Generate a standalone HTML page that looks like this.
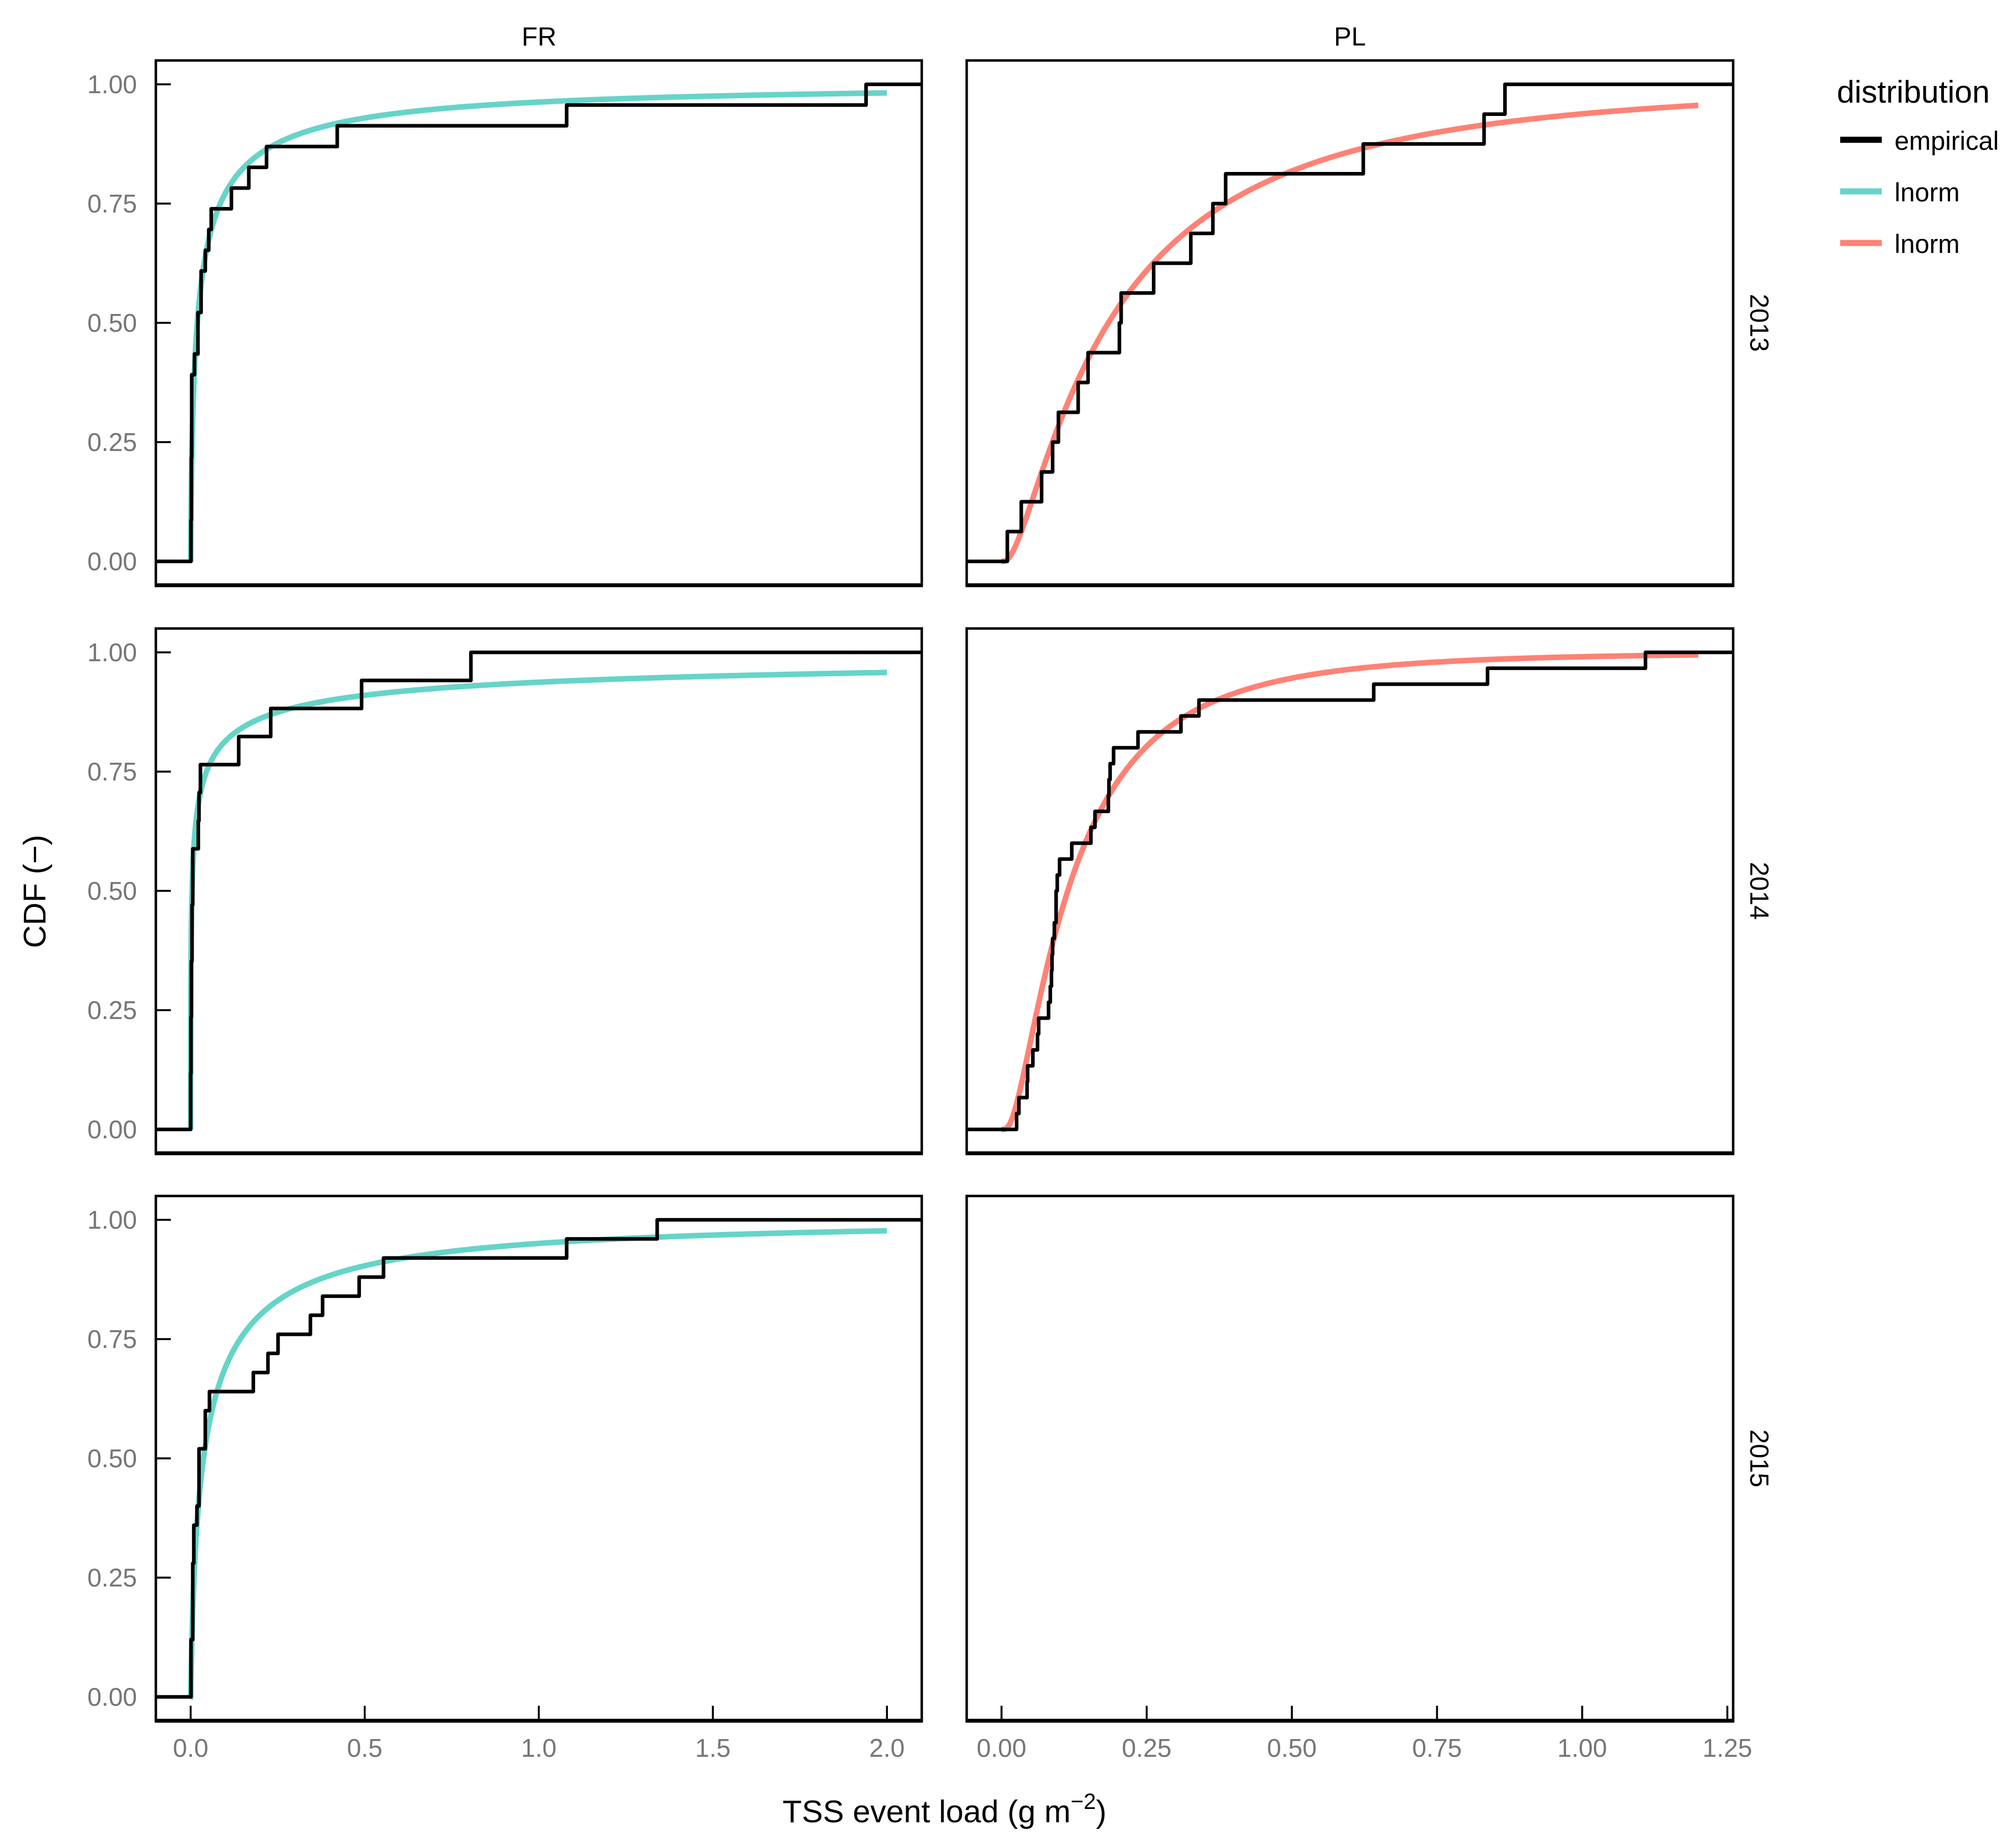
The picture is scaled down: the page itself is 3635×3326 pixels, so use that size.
<!DOCTYPE html>
<html>
<head>
<meta charset="utf-8">
<style>
html,body{margin:0;padding:0;background:#fff;}
svg{display:block;}
text{font-family:"Liberation Sans",Arial,sans-serif;}
</style>
</head>
<body>
<svg id="chart" xmlns="http://www.w3.org/2000/svg" width="3635" height="3326" viewBox="0 0 3635 3326">
<rect x="0" y="0" width="3635" height="3326" fill="#fff"/>
<g id="panels"></g>
<text x="972" y="82" font-size="47" text-anchor="middle" fill="#000">FR</text>
<text x="2434" y="82" font-size="47" text-anchor="middle" fill="#000">PL</text>
<text transform="translate(3156,582) rotate(90)" font-size="47" text-anchor="middle" fill="#000">2013</text>
<text transform="translate(3156,1606) rotate(90)" font-size="47" text-anchor="middle" fill="#000">2014</text>
<text transform="translate(3156,2629) rotate(90)" font-size="47" text-anchor="middle" fill="#000">2015</text>
<text transform="translate(82,1607) rotate(-90)" font-size="57" text-anchor="middle" fill="#000">CDF (−)</text>
<text x="1703" y="3285" font-size="57" text-anchor="middle" fill="#000">TSS event load (g m<tspan dy="-24" font-size="40">−2</tspan><tspan dy="24">)</tspan></text>
<g>
<text x="3312" y="185" font-size="57" fill="#000">distribution</text>
<line x1="3318" y1="252" x2="3393" y2="252" stroke="#000" stroke-width="11"/>
<text x="3416" y="270" font-size="47" fill="#000">empirical</text>
<line x1="3318" y1="345" x2="3393" y2="345" stroke="#66D4C8" stroke-width="11"/>
<text x="3416" y="363" font-size="47" fill="#000">lnorm</text>
<line x1="3318" y1="438" x2="3393" y2="438" stroke="#FF8275" stroke-width="11"/>
<text x="3416" y="456" font-size="47" fill="#000">lnorm</text>
</g>
</svg>
<script>
// ---- data ----
const sites = ["FR", "PL"];
const years = ["2013", "2014", "2015"];
const yTicks = [0, 0.25, 0.5, 0.75, 1];
const yTickLabels = ["0.00", "0.25", "0.50", "0.75", "1.00"];
const xTicksFR = [0, 0.5, 1, 1.5, 2];
const xTickLabelsFR = ["0.0", "0.5", "1.0", "1.5", "2.0"];
const xTicksPL = [0, 0.25, 0.5, 0.75, 1, 1.25];
const xTickLabelsPL = ["0.00", "0.25", "0.50", "0.75", "1.00", "1.25"];
const empFR2013 = [0.001,0.001,0.002,0.002,0.002,0.003,0.003,0.003,0.003,0.011,0.021,0.021,0.030,0.030,0.042,0.052,0.059,0.117,0.167,0.218,0.421,1.08,1.94];
const empFR2014 = [0.000,0.000,0.001,0.001,0.002,0.002,0.004,0.004,0.006,0.006,0.022,0.024,0.028,0.138,0.230,0.491,0.805];
const empFR2015 = [0.001,0.001,0.001,0.006,0.006,0.006,0.006,0.009,0.009,0.018,0.024,0.024,0.024,0.042,0.042,0.054,0.180,0.222,0.251,0.344,0.379,0.484,0.554,1.08,1.34];
const empPL2013 = [0.010,0.034,0.069,0.088,0.098,0.132,0.149,0.203,0.206,0.262,0.326,0.364,0.386,0.623,0.831,0.867];
const empPL2014 = [0.026,0.030,0.044,0.045,0.054,0.062,0.064,0.081,0.084,0.086,0.087,0.088,0.091,0.094,0.094,0.096,0.100,0.121,0.154,0.161,0.184,0.185,0.187,0.193,0.235,0.309,0.340,0.641,0.837,1.109];
// fitted lognormal parameters per panel: FR2013, FR2014, FR2015, PL2013, PL2014
const fitMeanlog = [-3.96, -5.52, -3.30, -1.693, -2.171];
const fitSdlog = [2.22, 3.6, 2.0, 1.1, 0.92];
const fitXmax = [2.0, 2.0, 2.0, 1.2, 1.2];

// ---- layout ----
const colX = [[281,1662],[1743,3125]];
const rowY = [[109,1055],[1133,2079],[2156,3102]];
const xDom = [[-0.1,2.1],[-0.06,1.26]];
const yDom = [-0.05,1.05];
const NS = "http://www.w3.org/2000/svg";
const panelsG = document.getElementById('panels');

function erf(x){const s=x<0?-1:1;x=Math.abs(x);const t=1/(1+0.3275911*x);
 const y=1-(((((1.061405429*t-1.453152027)*t)+1.421413741)*t-0.284496736)*t+0.254829592)*t*Math.exp(-x*x);return s*y;}
function plnorm(x,m,s){if(x<=0)return 0;return 0.5*(1+erf((Math.log(x)-m)/(s*Math.SQRT2)));}
function mk(tag,attrs){const e=document.createElementNS(NS,tag);for(const k in attrs)e.setAttribute(k,attrs[k]);return e;}

const panelDefs = [
 {c:0,r:0,emp:empFR2013,fit:0,col:"#66D4C8"},
 {c:0,r:1,emp:empFR2014,fit:1,col:"#66D4C8"},
 {c:0,r:2,emp:empFR2015,fit:2,col:"#66D4C8"},
 {c:1,r:0,emp:empPL2013,fit:3,col:"#FF8275"},
 {c:1,r:1,emp:empPL2014,fit:4,col:"#FF8275"},
 {c:1,r:2,emp:null,fit:-1,col:"#FF8275"}
];

panelDefs.forEach((p,i)=>{
 const [x0,x1]=colX[p.c],[y0,y1]=rowY[p.r];
 const xs=v=>x0+(v-xDom[p.c][0])/(xDom[p.c][1]-xDom[p.c][0])*(x1-x0);
 const ys=v=>y1-(v-yDom[0])/(yDom[1]-yDom[0])*(y1-y0);
 const g=mk('g',{});
 
 
 panelsG.appendChild(g);
 const cid='clip'+i;
 const cp=mk('clipPath',{id:cid});cp.appendChild(mk('rect',{x:x0,y:y0,width:x1-x0,height:y1-y0}));g.appendChild(cp);
 if(p.fit>=0){
  const m=fitMeanlog[p.fit],s=fitSdlog[p.fit],xm=fitXmax[p.fit];
  let d='';const N=600;
  for(let k=0;k<=N;k++){const xv=xm*Math.pow(k/N,3);d+=(k?'L':'M')+xs(xv).toFixed(2)+','+ys(plnorm(xv,m,s)).toFixed(2);}
  const path=mk('path',{d:d,fill:'none',stroke:p.col,'stroke-width':10,'clip-path':'url(#'+cid+')'});
  
  
  g.appendChild(path);
 }
 if(p.emp){
  const v=p.emp.slice().sort((a,b)=>a-b);const n=v.length;
  let d='M'+x0+','+ys(0);let cur=0;
  for(let k=0;k<n;k++){d+='L'+xs(v[k]).toFixed(2)+','+ys(cur).toFixed(2);cur=(k+1)/n;d+='L'+xs(v[k]).toFixed(2)+','+ys(cur).toFixed(2);}
  d+='L'+x1+','+ys(1).toFixed(2);
  const path=mk('path',{d:d,fill:'none',stroke:'#000','stroke-width':6.5,'stroke-linejoin':'round','clip-path':'url(#'+cid+')'});
  
  
  g.appendChild(path);
 }
 const fr=mk('rect',{x:x0,y:y0,width:x1-x0,height:y1-y0,fill:'none',stroke:'#000','stroke-width':4.5});
 
 
 g.appendChild(fr);
 const bl=mk('line',{x1:x0-2,y1:y1,x2:x1+2,y2:y1,stroke:'#000','stroke-width':7});
 
 
 g.appendChild(bl);
 if(p.c===0){
  yTicks.forEach((t,k)=>{
   const tl=mk('line',{x1:x0,y1:ys(t),x2:x0+27,y2:ys(t),stroke:'#000','stroke-width':3.5});
   
   
   g.appendChild(tl);
   const tx=mk('text',{x:247,y:ys(t)+16,'font-size':46,'text-anchor':'end',fill:'#767676'});
   tx.textContent=yTickLabels[k];
   
   
   g.appendChild(tx);
  });
 }
 if(p.r===2){
  const tk=p.c===0?xTicksFR:xTicksPL,lb=p.c===0?xTickLabelsFR:xTickLabelsPL;
  tk.forEach((t,k)=>{
   const tl=mk('line',{x1:xs(t),y1:y1,x2:xs(t),y2:y1-27,stroke:'#000','stroke-width':3.5});
   
   
   g.appendChild(tl);
   const tx=mk('text',{x:xs(t),y:3167,'font-size':46,'text-anchor':'middle',fill:'#767676'});
   tx.textContent=lb[k];
   
   
   g.appendChild(tx);
  });
 }
});
</script>
</body>
</html>
